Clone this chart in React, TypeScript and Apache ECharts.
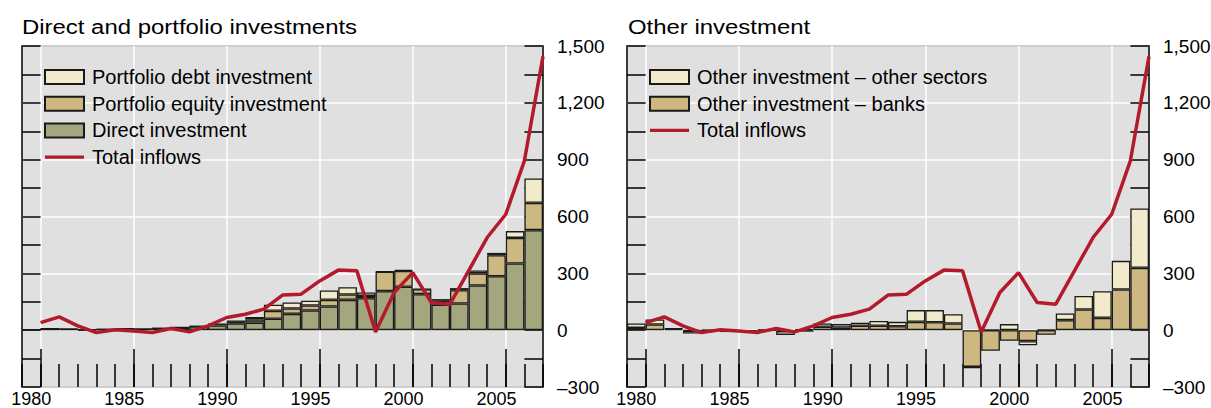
import React, { useEffect, useRef } from 'react';
import * as echarts from 'echarts';

const years = ['1980','1981','1982','1983','1984','1985','1986','1987','1988','1989','1990','1991','1992','1993','1994','1995','1996','1997','1998','1999','2000','2001','2002','2003','2004','2005','2006','2007'];
const boundaryYears = ['1979', ...years];

const directInvestment = [3, 8, 5, 2, 4, 8, 6, 9, 13, 19, 25, 35, 40, 60, 86, 104, 125, 160, 169, 206, 229, 190, 134, 141, 236, 285, 352, 528];
const portfolioEquity = [0, 0, 0, 0, 0, 0, 0, 0, 1, 1, 7, 9, 16, 42, 28, 26, 35, 28, 12, 102, 84, 26, 21, 70, 64, 111, 135, 144];
const portfolioDebt = [0, 1, 0, 0, 0, 0, 0, 0, 1, 1, 0, 7, 14, 32, 32, 25, 49, 39, 18, 3, 5, 2, 9, 11, 15, 12, 36, 129];

const otherBanks = [12, 30, 6, -3, -2, -3, -4, 3, -5, 5, 18, 14, 23, 23, 21, 44, 42, 35, -194, -109, -56, -58, -24, 53, 109, 65, 215, 329];
const otherSectors = [23, 26, 3, -15, 1, -7, -4, -3, -20, -8, 17, 18, 16, 26, 23, 62, 64, 49, -6, 2, 32, -22, 2, 35, 71, 141, 151, 313];

const totalInflows = [40, 70, 23, -13, 2, -4, -12, 9, -9, 23, 67, 84, 111, 185, 190, 260, 317, 313, -10, 199, 304, 146, 137, 313, 489, 612, 894, 1445];

const yTickLabels = [-300, 0, 300, 600, 900, 1200, 1500];

const FONT = '"Liberation Sans", Arial, Helvetica, sans-serif';
const C_DEBT = '#f1eacb';
const C_EQUITY = '#cdb881';
const C_DIRECT = '#a4a67e';
const C_LINE = '#b31b2d';
const C_BORDER = '#1a1a1a';

function fmtY(v: number): string {
  if (!yTickLabels.includes(v)) return '';
  const a = Math.abs(v);
  const s = a >= 1000 ? Math.floor(a / 1000) + ',' + String(a % 1000).padStart(3, '0') : String(a);
  return v < 0 ? '\u2013' + s : s;
}

const isFive = (_i: number, v: string) => Number(v) % 5 === 0;

function panelAxes(g: number) {
  const xAxes = [
    {
      type: 'category', gridIndex: g, data: years, boundaryGap: true, position: 'bottom',
      axisLine: { show: false, onZero: false }, axisTick: { show: false }, splitLine: { show: false },
      axisLabel: { show: true, interval: isFive, fontSize: 18, color: '#000', fontFamily: FONT, margin: 3 },
    },
    {
      type: 'category', gridIndex: g, data: boundaryYears, boundaryGap: false, position: 'bottom',
      axisLine: { show: false, onZero: false }, axisLabel: { show: false },
      axisTick: { show: true, inside: true, length: 38, interval: isFive, lineStyle: { color: '#000', width: 1.5 } },
      splitLine: { show: true, interval: isFive, lineStyle: { color: '#ffffff', width: 1.5 } },
    },
    {
      type: 'category', gridIndex: g, data: boundaryYears, boundaryGap: false, position: 'bottom',
      axisLine: { show: false, onZero: false }, axisLabel: { show: false }, splitLine: { show: false },
      axisTick: { show: true, inside: true, length: 23, interval: 0, lineStyle: { color: '#000', width: 1.5 } },
    },
  ];
  const yAxes = [
    {
      type: 'value', gridIndex: g, position: 'right', min: -300, max: 1500, interval: 300,
      axisLine: { show: false, onZero: false }, axisTick: { show: false },
      axisLabel: { show: true, formatter: fmtY, fontSize: 19, color: '#000', fontFamily: FONT, margin: 14 },
      splitLine: { show: true, lineStyle: { color: '#ffffff', width: 1.5 } },
    },
    {
      type: 'value', gridIndex: g, position: 'right', min: -300, max: 1500, interval: 150,
      axisLine: { show: false, onZero: false }, axisLabel: { show: false }, splitLine: { show: false },
      axisTick: { show: true, inside: true, length: 18.6, lineStyle: { color: '#000', width: 1.5 } },
    },
    {
      type: 'value', gridIndex: g, position: 'left', min: -300, max: 1500, interval: 150,
      axisLine: { show: false, onZero: false }, axisLabel: { show: false }, splitLine: { show: false },
      axisTick: { show: true, inside: true, length: 18.6, lineStyle: { color: '#000', width: 1.5 } },
    },
  ];
  return { xAxes, yAxes };
}

function barSeries(name: string, g: number, stack: string, data: number[], color: string) {
  return {
    type: 'bar', name, xAxisIndex: g * 3, yAxisIndex: g * 3, stack, data,
    barWidth: '100%', barCategoryGap: '0%',
    itemStyle: { color, borderColor: C_BORDER, borderWidth: 1.3 },
    z: 2,
  };
}

function lineSeries(g: number) {
  return {
    type: 'line', name: 'Total inflows', xAxisIndex: g * 3 + 1, yAxisIndex: g * 3,
    data: [null, ...totalInflows], symbol: 'none', showSymbol: false,
    lineStyle: { color: C_LINE, width: 3.5 }, itemStyle: { color: C_LINE },
    z: 5,
  };
}

const LINE_ICON = 'path://M0,0 L40,0 L40,3.5 L0,3.5 Z';

function legend(left: number, names: string[]) {
  return {
    orient: 'vertical', left, top: 67, padding: 0, itemWidth: 39, itemHeight: 14, itemGap: 6.7,
    selectedMode: false, symbolKeepAspect: true,
    textStyle: { fontSize: 20, lineHeight: 20, color: '#000', fontFamily: FONT, padding: [0, 0, 0, 3] },
    data: names.map((n) =>
      n === 'Total inflows'
        ? { name: n, icon: LINE_ICON, itemStyle: { color: C_LINE, borderWidth: 0 } }
        : { name: n, icon: 'rect' }
    ),
  };
}

export default function App() {
  const ref = useRef<HTMLDivElement>(null);
  useEffect(() => {
    if (!ref.current) return;
    const chart = echarts.init(ref.current, null, { renderer: 'svg' });
    const p0 = panelAxes(0);
    const p1 = panelAxes(1);
    const gridBase = {
      top: 46, height: 341, show: true, backgroundColor: '#e0e0e0',
      borderColor: '#000', borderWidth: 1.5, containLabel: false, outerBoundsMode: 'none',
    };
    chart.setOption({
      animation: false,
      textStyle: { fontFamily: FONT },
      grid: [
        { ...gridBase, left: 22, width: 521 },
        { ...gridBase, left: 627, width: 522 },
      ],
      xAxis: [...p0.xAxes, ...p1.xAxes],
      yAxis: [...p0.yAxes, ...p1.yAxes],
      legend: [
        legend(44, ['Portfolio debt investment', 'Portfolio equity investment', 'Direct investment', 'Total inflows']),
        legend(649, ['Other investment \u2013 other sectors', 'Other investment \u2013 banks', 'Total inflows']),
      ],
      graphic: [
        {
          type: 'text', x: 22, y: 27, scaleX: 1.14,
          style: { text: 'Direct and portfolio investments', fontSize: 21, fontFamily: FONT, fill: '#000', align: 'left', verticalAlign: 'middle' },
        },
        {
          type: 'text', x: 628, y: 27, scaleX: 1.14,
          style: { text: 'Other investment', fontSize: 21, fontFamily: FONT, fill: '#000', align: 'left', verticalAlign: 'middle' },
        },
      ],
      series: [
        barSeries('Direct investment', 0, 'L', directInvestment, C_DIRECT),
        barSeries('Portfolio equity investment', 0, 'L', portfolioEquity, C_EQUITY),
        barSeries('Portfolio debt investment', 0, 'L', portfolioDebt, C_DEBT),
        lineSeries(0),
        barSeries('Other investment \u2013 banks', 1, 'R', otherBanks, C_EQUITY),
        barSeries('Other investment \u2013 other sectors', 1, 'R', otherSectors, C_DEBT),
        lineSeries(1),
      ],
    });
    return () => chart.dispose();
  }, []);
  return <div ref={ref} style={{ position: 'absolute', left: 0, top: 0, width: 1211, height: 408 }} />;
}
